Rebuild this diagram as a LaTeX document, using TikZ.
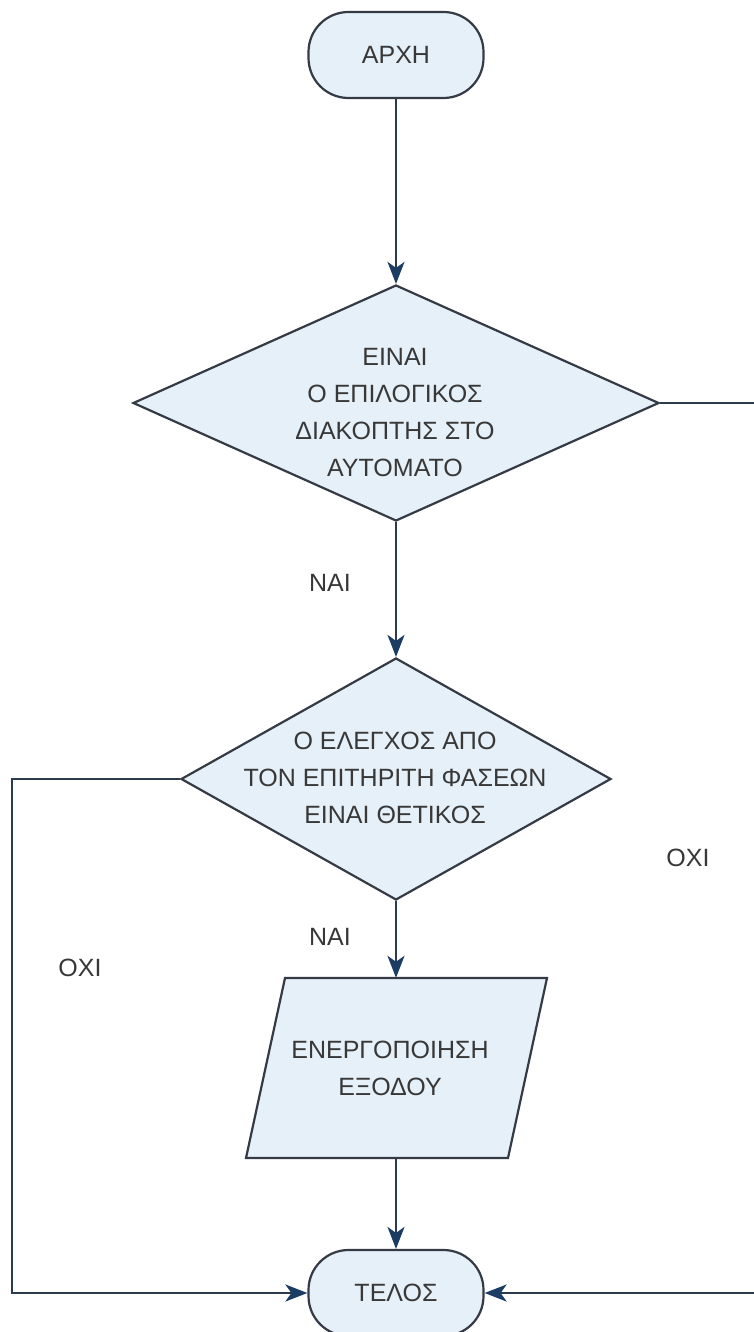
\documentclass[tikz,border=0pt]{standalone}
\usepackage{fontspec}
\setmainfont{Liberation Sans}
\usetikzlibrary{shapes.geometric,arrows.meta}
\definecolor{boxfill}{HTML}{E6F0F8}
\definecolor{edge}{HTML}{353A44}
\definecolor{flow}{HTML}{2B3A4E}
\definecolor{tipblue}{HTML}{1C3D63}
\definecolor{ink}{HTML}{383838}

\begin{document}
\begin{tikzpicture}[x=1pt,y=-1pt,
  every node/.style={font=\fontsize{25}{37}\selectfont, text=ink},
  terminal/.style={draw=edge, line width=2.2pt, fill=boxfill, rounded corners=40pt,
    minimum width=175pt, minimum height=86pt, inner sep=0pt},
  decision/.style={draw=edge, line width=2.2pt, fill=boxfill, diamond, inner sep=0pt},
  flowline/.style={draw=flow, line width=2.2pt},
  flowarrow/.style={flowline, -{Stealth[length=22pt,width=17pt,inset=6pt,color=tipblue]}},
  caption/.style={align=center}
]
\clip (0,0) rectangle (754,1332);
\fill[white] (0,0) rectangle (754,1332);

% start and end terminals
\node[terminal] (start) at (396,55) {ΑΡΧΗ};
\node[terminal] (end) at (396,1293) {ΤΕΛΟΣ};

% decisions
\node[decision, minimum width=526pt, minimum height=236pt] (d1) at (396,403) {};
\node[caption] (d1text) at (395,413) {ΕΙΝΑΙ\\Ο ΕΠΙΛΟΓΙΚΟΣ\\ΔΙΑΚΟΠΤΗΣ ΣΤΟ\\ΑΥΤΟΜΑΤΟ};

\node[decision, minimum width=430pt, minimum height=242pt] (d2) at (396,779) {};
\node[caption] (d2text) at (395,778) {Ο ΕΛΕΓΧΟΣ ΑΠΟ\\ΤΟΝ ΕΠΙΤΗΡΙΤΗ ΦΑΣΕΩΝ\\ΕΙΝΑΙ ΘΕΤΙΚΟΣ};

% output step (parallelogram)
\path[draw=edge, line width=2.2pt, fill=boxfill]
  (246,1158) -- (285,978) -- (547,978) -- (508,1158) -- cycle;
\node[caption, minimum width=200pt, minimum height=180pt, inner sep=0pt] (out) at (396,1068) {};
\node[caption] (outtext) at (390,1068) {ΕΝΕΡΓΟΠΟΙΗΣΗ\\ΕΞΟΔΟΥ};

% routing corners
\coordinate (lc) at (12,779);
\coordinate (rc) at (790,403);

% connectors
\draw[flowarrow] (start.south) -- (d1.north);
\draw[flowarrow] (d1.south) -- (d2.north);
\draw[flowarrow] (d2.south) -- (out.north);
\draw[flowarrow] (out.south) -- (end.north);
\draw[flowarrow] (d2.west) -- (lc) |- (end.west);
\draw[flowarrow] (d1.east) -- (rc) |- (end.east);

% branch labels
\node (yes1) at (330,583) {ΝΑΙ};
\node (yes2) at (330,937) {ΝΑΙ};
\node (no1) at (80,968) {ΟΧΙ};
\node (no2) at (688,858) {ΟΧΙ};
\end{tikzpicture}
\end{document}
